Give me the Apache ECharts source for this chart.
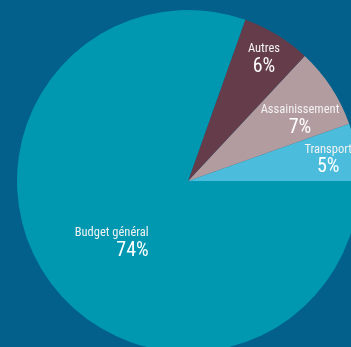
<!DOCTYPE html>
<html>
<head>
<meta charset="utf-8">
<script src="https://cdn.jsdelivr.net/npm/echarts@6/dist/echarts.min.js"></script>
<style>
  html, body { margin: 0; padding: 0; background: #02608a; }
  #chart { width: 351px; height: 347px; }
</style>
</head>
<body>
<div id="chart"></div>
<script>
// Répartition du budget (pourcentages affichés sur chaque part)
const categories = ['Transport', 'Assainissement', 'Autres', 'Budget général'];
const values = [5, 7, 6, 74];
const colors = ['#4bbcdb', '#b39ca0', '#643c4a', '#0098b1'];

// label nudges relative to the default inside anchor of each slice
const labelShift = [
  { dx: 53, dy: -6, align: 'center' },
  { dx: 38, dy: -12, align: 'center' },
  { dx: 30, dy: -46, align: 'center' },
  { dx: 33, dy: 11, align: 'right' }
];

const font = '"Roboto Condensed", "DejaVu Sans Condensed", sans-serif';

const data = categories.map((name, i) => ({
  name: name,
  value: values[i],
  itemStyle: { color: colors[i] }
}));

const chart = echarts.init(document.getElementById('chart'), null, { renderer: 'canvas' });
chart.setOption({
  backgroundColor: '#02608a',
  animation: false,
  series: [{
    type: 'pie',
    center: [188, 181],
    radius: 171,
    startAngle: 0,
    clockwise: false,
    avoidLabelOverlap: false,
    itemStyle: { borderWidth: 0 },
    emphasis: { disabled: true },
    label: {
      show: true,
      position: 'inside',
      formatter: '{n|{b}}\n{p|{c}%}',
      rich: {
        n: { fontFamily: font, fontSize: 12.5, color: '#f2f2f2', lineHeight: 15 },
        p: { fontFamily: font, fontSize: 20, color: '#ffffff', lineHeight: 21 }
      }
    },
    labelLine: { show: false },
    labelLayout: function (params) {
      return labelShift[params.dataIndex];
    },
    data: data
  }]
});
</script>
</body>
</html>
